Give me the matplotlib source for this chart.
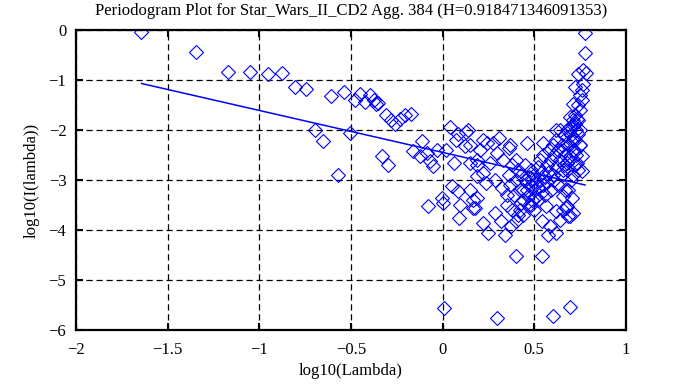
import matplotlib
matplotlib.use('Agg')
import matplotlib.pyplot as plt
from matplotlib.ticker import FuncFormatter

plt.rcParams['font.family'] = ['Liberation Serif', 'DejaVu Serif']

TITLE = 'Periodogram Plot for Star_Wars_II_CD2 Agg. 384 (H=0.918471346091353)'

# log10(lambda), log10(I(lambda))
log_lambda = [
    -1.645, -1.345, -1.17, -1.05, -0.95, -0.875, -0.805, -0.745, -0.695, -0.65,
    -0.61, -0.57, -0.54, -0.505, -0.48, -0.45, -0.425, -0.395, -0.375, -0.365,
    -0.35, -0.33, -0.31, -0.30, -0.28, -0.26, -0.235, -0.205, -0.17, -0.16,
    -0.125, -0.115, -0.085, -0.08, -0.07, -0.05, -0.03, -0.005, 0.003, 0.007,
    0.02, 0.04, 0.05, 0.06, 0.075, 0.085, 0.085, 0.09, 0.095, 0.12,
    0.13, 0.14, 0.15, 0.15, 0.15, 0.165, 0.165, 0.175, 0.185, 0.185,
    0.19, 0.19, 0.205, 0.22, 0.22, 0.22, 0.235, 0.24, 0.25, 0.26,
    0.275, 0.285, 0.285, 0.295, 0.295, 0.31, 0.32, 0.325, 0.33, 0.34,
    0.35, 0.36, 0.37, 0.375, 0.40, 0.40, 0.40, 0.43, 0.46, 0.54,
    0.54, 0.565, 0.575, 0.585, 0.60, 0.62, 0.62, 0.64, 0.675, 0.695,
    0.695,
    # dense core
    0.36, 0.37, 0.38, 0.39, 0.40, 0.41, 0.42, 0.43, 0.44, 0.45,
    0.45, 0.46, 0.47, 0.47, 0.48, 0.48, 0.49, 0.49, 0.50, 0.50,
    0.51, 0.51, 0.52, 0.52, 0.53, 0.53, 0.54, 0.54, 0.55, 0.55,
    0.56, 0.56, 0.57, 0.57, 0.58, 0.58, 0.59, 0.59, 0.60, 0.60,
    0.61, 0.61, 0.62, 0.62, 0.63, 0.63, 0.64, 0.64, 0.65, 0.65,
    0.66, 0.66, 0.67, 0.67, 0.68, 0.68, 0.69, 0.69, 0.70, 0.70,
    0.71, 0.71, 0.72, 0.72, 0.73, 0.73, 0.74, 0.74, 0.75, 0.75,
    0.42, 0.44, 0.47, 0.50, 0.52, 0.35, 0.38, 0.41, 0.44, 0.48,
    # right arm and column
    0.777, 0.777, 0.768, 0.783, 0.768, 0.76, 0.75, 0.76, 0.741, 0.75,
    0.722, 0.713, 0.732, 0.695, 0.722, 0.695, 0.741, 0.713, 0.677, 0.75,
    0.658, 0.722, 0.695, 0.759, 0.677, 0.732, 0.759, 0.658, 0.713, 0.686,
    0.658, 0.704, 0.677, 0.713, 0.686, 0.658, 0.55, 0.62, 0.695, 0.71,
    0.72, 0.74,
]
log_power = [
    -0.04, -0.44, -0.84, -0.83, -0.87, -0.85, -1.13, -1.17, -2.00, -2.23,
    -1.31, -2.90, -1.23, -2.05, -1.40, -1.27, -1.43, -1.30, -1.40, -1.48,
    -1.46, -2.53, -1.70, -2.70, -1.80, -1.87, -1.77, -1.70, -1.68, -2.43,
    -2.53, -2.23, -2.47, -3.53, -2.63, -2.73, -2.40, -3.37, -3.47, -5.57,
    -2.40, -1.93, -3.13, -2.67, -2.20, -2.07, -3.23, -3.77, -3.50, -2.33,
    -2.03, -2.00, -2.67, -3.20, -2.30, -3.40, -3.57, -3.57, -2.93, -2.60,
    -2.70, -3.36, -2.40, -2.20, -2.86, -3.87, -3.06, -2.26, -4.07, -2.66,
    -2.27, -3.00, -3.67, -2.46, -5.77, -2.16, -3.83, -3.16, -2.60, -4.10,
    -3.50, -2.36, -2.30, -3.93, -3.83, -4.53, -2.60, -3.47, -2.27, -4.53,
    -3.83, -3.53, -4.10, -3.93, -5.73, -3.63, -4.07, -3.80, -3.57, -3.73,
    -5.55,
    # dense core
    -2.90, -3.10, -2.70, -3.30, -3.00, -2.80, -3.20, -2.90, -3.40, -3.00,
    -2.70, -3.20, -2.95, -3.30, -3.10, -2.80, -3.40, -3.00, -3.20, -2.90,
    -3.05, -3.35, -2.75, -3.15, -3.00, -2.60, -3.25, -2.85, -3.10, -2.50,
    -2.95, -3.30, -2.70, -3.05, -2.40, -2.85, -3.20, -2.60, -2.30, -2.90,
    -3.00, -2.50, -2.20, -2.75, -3.10, -2.40, -2.00, -2.60, -2.90, -2.30,
    -2.10, -2.70, -2.50, -3.20, -2.00, -2.80, -2.30, -2.60, -2.10, -3.00,
    -2.40, -1.90, -2.70, -2.20, -2.00, -2.50, -2.80, -1.80, -2.30, -2.00,
    -3.60, -3.70, -3.50, -3.60, -3.40, -3.30, -3.60, -3.70, -3.20, -3.50,
    # right arm and column
    -0.05, -0.45, -0.80, -0.85, -1.07, -1.20, -1.30, -1.40, -1.50, -1.60,
    -1.70, -1.80, -1.77, -1.93, -1.87, -2.00, -2.07, -2.20, -2.27, -2.30,
    -2.40, -2.43, -2.53, -2.53, -2.67, -2.67, -2.83, -2.80, -2.90, -3.20,
    -3.33, -3.37, -3.53, -3.67, -3.73, -3.60, -2.26, -2.00, -1.73, -1.47,
    -1.13, -0.87,
]

# least squares fit line end points
fit_x = [-1.642, 0.777]
fit_y = [-1.07, -3.10]

x_ticks = [-2, -1.5, -1, -0.5, 0, 0.5, 1]
y_ticks = [-6, -5, -4, -3, -2, -1, 0]


def short_num(v, pos):
    """Tick labels like the original: -2, -1.5, 0 ... with a real minus"""
    return '{:g}'.format(v).replace('-', '\u2212')


fig = plt.figure(figsize=(6.97, 3.85), dpi=100)
ax = fig.add_axes([0.109, 0.143, 0.789, 0.779])

ax.plot(log_lambda, log_power, linestyle='none', marker='D', markersize=7,
        markerfacecolor='none', markeredgecolor='blue', markeredgewidth=0.8)
ax.plot(fit_x, fit_y, color='blue', linewidth=1.1)

ax.set_xlim(-2, 1)
ax.set_ylim(-6, 0)
ax.set_xticks(x_ticks)
ax.set_yticks(y_ticks)
ax.xaxis.set_major_formatter(FuncFormatter(short_num))
ax.yaxis.set_major_formatter(FuncFormatter(short_num))
ax.grid(True, color='black', linestyle=(0, (5, 3)), linewidth=0.9)

for s in ax.spines.values():
    s.set_linewidth(1.6)
ax.tick_params(direction='in', top=True, right=True, length=5, width=1.5,
               labelsize=12)
ax.tick_params(axis='x', pad=9)
ax.tick_params(axis='y', pad=7)

ax.set_title(TITLE, fontsize=12, pad=11)
ax.set_xlabel('log10(Lambda)', fontsize=12, labelpad=3)
ax.set_ylabel('log10(I(lambda))', fontsize=12, labelpad=6)

fig.savefig('out.png', dpi=100)
